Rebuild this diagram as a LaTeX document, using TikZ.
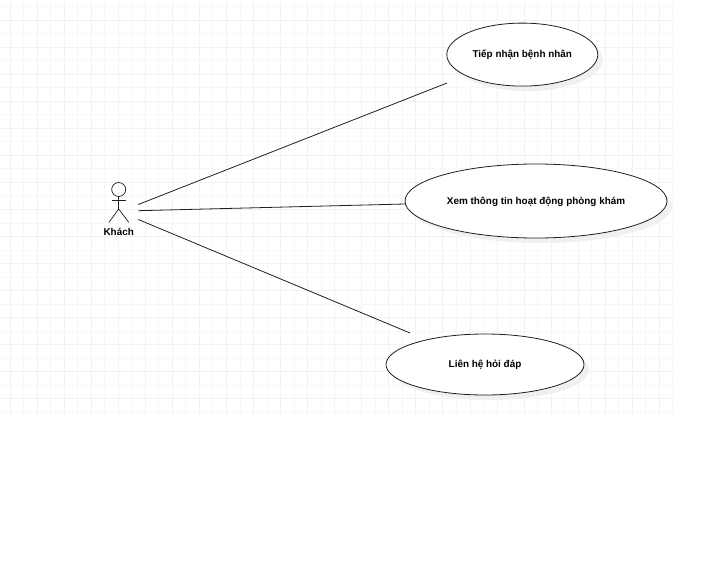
\documentclass[tikz,border=0pt]{standalone}
\usepackage{fontspec}
\setmainfont{Liberation Sans}
\usetikzlibrary{shapes.geometric,shadows}
\definecolor{GridClr}{rgb}{0.97,0.97,0.97}
\definecolor{GridMajorClr}{rgb}{0.95,0.95,0.95}
\definecolor{ShadowClr}{rgb}{0.94,0.94,0.94}
\definecolor{LineClr}{rgb}{0.12,0.12,0.12}
\tikzset{
  usecase/.style={ellipse,draw=LineClr,line width=0.8pt,fill=white,inner sep=0pt,
    font=\fontsize{9.9}{11}\selectfont\bfseries,text height=8.4pt,text depth=2pt,
    drop shadow={shadow xshift=5pt,shadow yshift=-5pt,fill=ShadowClr,opacity=1}},
  link/.style={draw=LineClr,line width=0.8pt},
  actorline/.style={draw=LineClr,line width=0.7pt}
}

\begin{document}
\begin{tikzpicture}[x=1pt,y=-1pt]
\useasboundingbox (0,0) rectangle (704,576);

% background grid
\foreach \x in {1,3,...,49} {
  \pgfmathsetmacro{\xpos}{floor(10+13.53*\x)+0.5}
  \draw[GridClr,line width=1pt] (\xpos,0) -- (\xpos,418);
}
\foreach \x in {0,2,...,48} {
  \pgfmathsetmacro{\xpos}{floor(10+13.53*\x)+0.5}
  \draw[GridMajorClr,line width=1pt] (\xpos,0) -- (\xpos,418);
}
\foreach \y in {0,2,...,30} {
  \pgfmathsetmacro{\ypos}{floor(6.7+13.52*\y)+0.5}
  \draw[GridClr,line width=1pt] (0,\ypos) -- (675,\ypos);
}
\foreach \y in {1,3,...,29} {
  \pgfmathsetmacro{\ypos}{floor(6.7+13.52*\y)+0.5}
  \draw[GridMajorClr,line width=1pt] (0,\ypos) -- (675,\ypos);
}

% actor
\node[circle,actorline,minimum size=14pt,inner sep=0pt] (head) at (118.7,189.5) {};
\coordinate (hip) at (118.7,209);
\coordinate (armL) at (111.7,200.7);
\coordinate (armR) at (126,200.7);
\coordinate (legL) at (109,222.3);
\coordinate (legR) at (128.7,222.3);
\draw[actorline] (head) -- (hip);
\draw[actorline] (armL) -- (armR);
\draw[actorline] (legL) -- (hip) -- (legR);
\node[font=\fontsize{9.9}{11}\selectfont\bfseries] (khach) at (118.7,232) {Khách};

% use cases
\node[usecase,minimum width=151pt,minimum height=63pt] (tiepnhan) at (522.3,54.6) {Tiếp nhận bệnh nhân};
\node[usecase,minimum width=262pt,minimum height=74pt] (xem) at (536,201) {Xem thông tin hoạt động phòng khám};
\node[usecase,minimum width=198pt,minimum height=61pt] (lienhe) at (485,364.5) {Liên hệ hỏi đáp};

% connectors
\coordinate (a1) at (138.3,204.5);
\coordinate (a2) at (138.3,210.7);
\coordinate (a3) at (138.3,219.5);
\coordinate (e1) at (447,83);
\coordinate (e2) at (405,204);
\coordinate (e3) at (410,333);
\draw[link] (a1) -- (e1);
\draw[link] (a2) -- (e2);
\draw[link] (a3) -- (e3);

\end{tikzpicture}
\end{document}
